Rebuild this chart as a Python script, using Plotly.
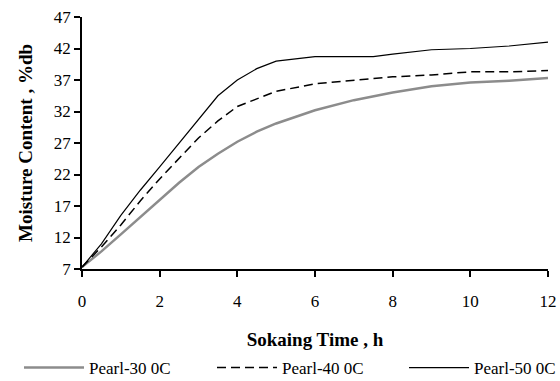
import plotly.graph_objects as go

t = [0, 0.5, 1, 1.5, 2, 2.5, 3, 3.5, 4, 4.5, 5, 6, 7, 7.5, 8, 9, 10, 11, 12]
pearl30 = [7.3, 9.8, 12.5, 15.2, 18.0, 20.7, 23.2, 25.3, 27.2, 28.8, 30.1, 32.2, 33.8, 34.4, 35.0, 36.0, 36.6, 36.9, 37.3]
pearl40 = [7.3, 10.5, 14.0, 17.8, 21.3, 24.5, 27.8, 30.5, 32.8, 34.0, 35.2, 36.4, 37.0, 37.2, 37.5, 37.8, 38.3, 38.3, 38.5]
pearl50 = [7.3, 11.0, 15.5, 19.5, 23.2, 27.0, 30.7, 34.5, 37.0, 38.8, 40.0, 40.7, 40.7, 40.7, 41.1, 41.8, 42.0, 42.4, 43.0]
names = ["Pearl-30 0C", "Pearl-40 0C", "Pearl-50 0C"]
xticks = [0, 2, 4, 6, 8, 10, 12]
yticks = [7, 12, 17, 22, 27, 32, 37, 42, 47]

font = "Liberation Serif, Times New Roman, serif"

fig = go.Figure()
fig.add_trace(go.Scatter(x=t, y=pearl30, mode="lines", name=names[0], legend="legend",
                         line=dict(color="#8c8c8c", width=2.5)))
fig.add_trace(go.Scatter(x=t, y=pearl40, mode="lines", name=names[1], legend="legend2",
                         line=dict(color="black", width=1.5, dash="9px,5px")))
fig.add_trace(go.Scatter(x=t, y=pearl50, mode="lines", name=names[2], legend="legend3",
                         line=dict(color="black", width=1.2)))

def leg(xpx):
    return dict(orientation="h", xref="container", yref="container",
                x=xpx / 560, y=13 / 381, xanchor="left", yanchor="middle",
                itemwidth=60, bgcolor="rgba(0,0,0,0)",
                font=dict(family=font, size=17, color="black"))

fig.update_layout(
    width=560, height=381,
    margin=dict(l=82, r=12, t=17, b=112, autoexpand=False),
    plot_bgcolor="white", paper_bgcolor="white",
    font=dict(family=font, size=17, color="black"),
    showlegend=True,
    legend=leg(19), legend2=leg(212), legend3=leg(404),
    xaxis=dict(range=[0, 12], tickvals=xticks, showgrid=False, zeroline=False,
               showline=True, linecolor="black", linewidth=1.5,
               ticks="outside", ticklen=6, tickcolor="black", tickwidth=1.5,
               ticklabelstandoff=10,
               title=dict(text="<b>Sokaing Time , h</b>", font=dict(size=19), standoff=52)),
    yaxis=dict(range=[7, 47], tickvals=yticks, showgrid=False, zeroline=False,
               showline=True, linecolor="black", linewidth=1.5,
               ticks="outside", ticklen=6, tickcolor="black", tickwidth=1.5,
               title=dict(text="<b>Moisture Content , %db</b>", font=dict(size=19), standoff=16)),
)

fig.write_html("out.html")
